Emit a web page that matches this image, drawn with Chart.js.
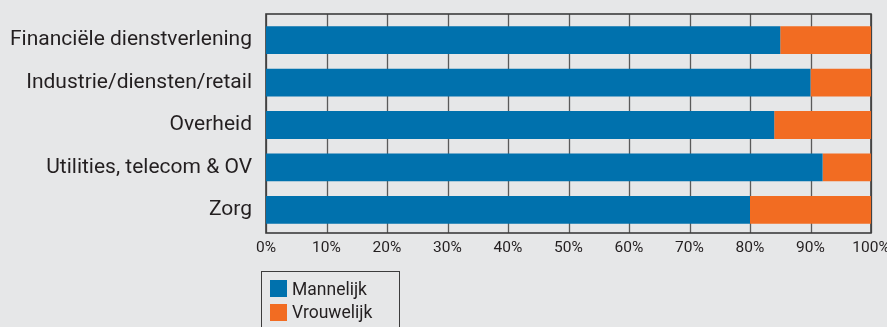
<!DOCTYPE html>
<html>
<head>
<meta charset="utf-8">
<script src="https://cdn.jsdelivr.net/npm/chart.js@4/dist/chart.umd.min.js"></script>
<style>
  html, body { margin: 0; padding: 0; background: #e6e7e8; }
  #wrap { position: relative; width: 887px; height: 327px; overflow: hidden; }
  #legend {
    position: absolute; left: 261px; top: 271px; width: 139px; height: 70px;
    border: 1px solid #3c3c3c; box-sizing: border-box;
    font-family: Roboto, "Liberation Sans", sans-serif; font-size: 17.5px; color: #231f20;
  }
  .item { position: absolute; left: 8px; display: flex; align-items: center; height: 17px; }
  .sw { width: 17px; height: 17px; margin-right: 5px; }
</style>
</head>
<body>
<div id="wrap">
  <canvas id="c" width="887" height="327"></canvas>
  <div id="legend"></div>
</div>
<script>
// Sectors and share of men / women per sector (percent)
const sectors = [
  "Financiële dienstverlening",
  "Industrie/diensten/retail",
  "Overheid",
  "Utilities, telecom & OV",
  "Zorg"
];
const mannelijk = [85, 90, 84, 92, 80];
const vrouwelijk = [15, 10, 16, 8, 20];
const percentTicks = [0, 10, 20, 30, 40, 50, 60, 70, 80, 90, 100];

const BLUE = "#0071ad";
const ORANGE = "#f26c22";
const FONT = 'Roboto, "Liberation Sans", sans-serif';

// Frame and vertical gridlines, drawn behind the bars and a bit taller than the plot
const framePlugin = {
  id: "frame",
  beforeDatasetsDraw(chart) {
    const { ctx, chartArea } = chart;
    const x = chart.scales.x;
    const top = chartArea.top - 5, bottom = chartArea.bottom + 2;
    ctx.save();
    ctx.strokeStyle = "#5a5a5a";
    ctx.lineWidth = 1.3;
    percentTicks.forEach(v => {
      const px = Math.round(x.getPixelForValue(v)) + 0.5;
      ctx.beginPath();
      ctx.moveTo(px, top);
      ctx.lineTo(px, bottom);
      ctx.stroke();
    });
    ctx.strokeStyle = "#3c3c3c";
    ctx.lineWidth = 1.6;
    const l = x.getPixelForValue(0), r = x.getPixelForValue(100);
    ctx.strokeRect(l, top, r - l, bottom - top);
    ctx.restore();
  }
};

function noEdgePadding(scale) {
  scale.paddingLeft = 0; scale.paddingRight = 0;
  scale.paddingTop = 0; scale.paddingBottom = 0;
}

const chart = new Chart(document.getElementById("c"), {
  type: "bar",
  data: {
    labels: sectors,
    datasets: [
      { label: "Mannelijk", data: mannelijk, backgroundColor: BLUE },
      { label: "Vrouwelijk", data: vrouwelijk, backgroundColor: ORANGE }
    ]
  },
  options: {
    indexAxis: "y",
    responsive: false,
    devicePixelRatio: 1,
    animation: false,
    categoryPercentage: 1,
    barPercentage: 0.655,
    layout: { padding: { left: 0, right: 16, top: 19, bottom: 66 } },
    plugins: { legend: { display: false }, tooltip: { enabled: false } },
    scales: {
      x: {
        stacked: true,
        min: 0, max: 100,
        afterBuildTicks(scale) { scale.ticks = percentTicks.map(v => ({ value: v })); },
        afterFit(scale) { scale.height = 30; noEdgePadding(scale); },
        grid: { display: false },
        border: { display: false },
        ticks: {
          padding: 0,
          color: "#231f20",
          font: { family: FONT, size: 15.5 },
          maxRotation: 0,
          callback: v => v + "%"
        }
      },
      y: {
        stacked: true,
        afterFit(scale) { scale.width = 266; noEdgePadding(scale); },
        grid: { display: false },
        border: { display: false },
        ticks: {
          padding: 6,
          color: "#231f20",
          font: { family: FONT, size: 21 }
        }
      }
    }
  },
  plugins: [framePlugin]
});

// Legend built from the chart's datasets
const legend = document.getElementById("legend");
chart.data.datasets.forEach((ds, i) => {
  const item = document.createElement("div");
  item.className = "item";
  item.style.top = (8 + i * 23.5) + "px";
  const sw = document.createElement("span");
  sw.className = "sw";
  sw.style.background = ds.backgroundColor;
  const txt = document.createElement("span");
  txt.textContent = ds.label;
  item.appendChild(sw);
  item.appendChild(txt);
  legend.appendChild(item);
});
</script>
</body>
</html>
